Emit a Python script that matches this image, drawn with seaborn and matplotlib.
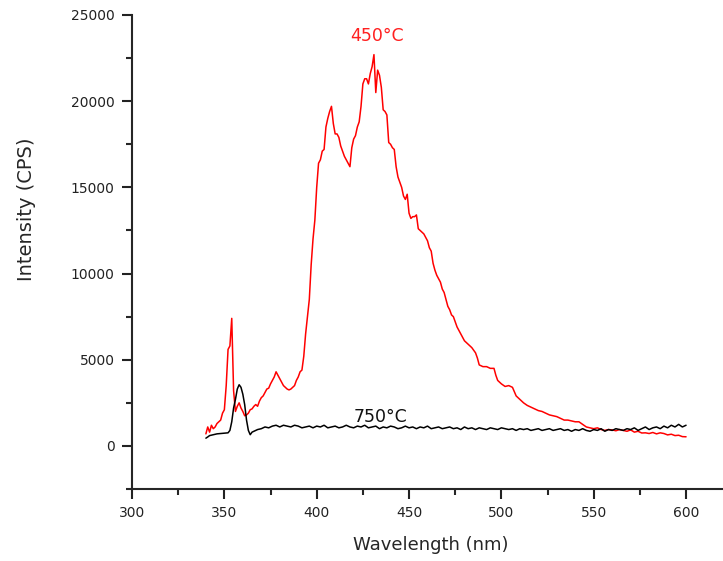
"""
Photoluminescence spectra, 450°C vs 750°C annealing
"""

import numpy as np
import pandas as pd
import matplotlib
matplotlib.use("Agg")
import matplotlib.pyplot as plt
import matplotlib.ticker as mticker
import seaborn as sns

# ── data
wl_450 = [340, 341, 342, 343, 344, 345, 346, 347, 348, 349, 350, 351, 352, 353, 354, 355, 356, 357, 358, 359,
          360, 361, 362, 363, 364, 365, 366, 367, 368, 369, 370, 371, 372, 373, 374, 375, 376, 377, 378, 379,
          380, 381, 382, 383, 384, 385, 386, 387, 388, 389, 390, 391, 392, 393, 394, 395, 396, 397, 398, 399,
          400, 401, 402, 403, 404, 405, 406, 407, 408, 409, 410, 411, 412, 413, 414, 415, 416, 417, 418, 419,
          420, 421, 422, 423, 424, 425, 426, 427, 428, 429, 430, 431, 432, 433, 434, 435, 436, 437, 438, 439,
          440, 441, 442, 443, 444, 445, 446, 447, 448, 449, 450, 451, 452, 453, 454, 455, 456, 457, 458, 459,
          460, 461, 462, 463, 464, 465, 466, 467, 468, 469, 470, 471, 472, 473, 474, 475, 476, 477, 478, 479,
          480, 482, 484, 486, 487, 488, 490, 492, 494, 496, 497, 498, 500, 502, 504, 506, 508, 510, 512, 514,
          516, 518, 520, 522, 524, 526, 528, 530, 532, 534, 536, 538, 540, 542, 544, 546, 548, 550, 552, 554,
          556, 558, 560, 562, 564, 566, 568, 570, 572, 574, 576, 578, 580, 582, 584, 586, 588, 590, 592, 594,
          596, 598, 600]
int_450 = [700, 1100, 800, 1200, 1000, 1100, 1300, 1400, 1500, 1900, 2100, 3500, 5600, 5800, 7400, 3200, 2000, 2300, 2500, 2200,
           2000, 1750, 1800, 1900, 2100, 2150, 2300, 2400, 2300, 2600, 2800, 2900, 3100, 3300, 3350, 3600, 3800, 4000, 4300, 4100,
           3900, 3700, 3500, 3400, 3300, 3250, 3300, 3400, 3500, 3800, 4000, 4300, 4400, 5200, 6500, 7500, 8500, 10500, 12000, 13100,
           15000, 16400, 16600, 17100, 17200, 18500, 19000, 19400, 19700, 18700, 18100, 18100, 17900, 17400, 17100, 16800, 16600, 16400, 16200, 17300,
           17800, 18000, 18500, 18800, 19700, 21000, 21300, 21300, 21000, 21600, 22000, 22700, 20500, 21800, 21500, 20800, 19500, 19400, 19200, 17600,
           17500, 17300, 17200, 16200, 15600, 15300, 15000, 14500, 14300, 14600, 13500, 13200, 13300, 13300, 13400, 12600, 12500, 12400, 12300, 12100,
           11900, 11500, 11300, 10600, 10200, 9900, 9700, 9500, 9100, 8900, 8500, 8100, 7900, 7600, 7500, 7200, 6900, 6700, 6500, 6300,
           6100, 5900, 5700, 5400, 5100, 4700, 4600, 4600, 4500, 4500, 4100, 3800, 3600, 3450, 3500, 3400, 2900, 2700, 2500, 2350,
           2250, 2150, 2050, 2000, 1900, 1800, 1750, 1700, 1600, 1500, 1500, 1450, 1400, 1400, 1250, 1100, 1050, 1000, 1050, 950,
           900, 950, 930, 880, 950, 900, 850, 930, 800, 850, 750, 760, 720, 780, 700, 760, 720, 640, 680, 600,
           620, 540, 530]

wl_750 = [340, 341, 342, 344, 346, 348, 350, 352, 353, 354, 355, 356, 357, 358, 359, 360, 361, 362, 363, 364,
          365, 366, 368, 370, 372, 374, 376, 378, 380, 382, 384, 386, 388, 390, 392, 394, 396, 398, 400, 402,
          404, 406, 408, 410, 412, 414, 416, 418, 420, 422, 424, 426, 428, 430, 432, 434, 436, 438, 440, 442,
          444, 446, 448, 450, 452, 454, 456, 458, 460, 462, 464, 466, 468, 470, 472, 474, 476, 478, 480, 482,
          484, 486, 488, 490, 492, 494, 496, 498, 500, 502, 504, 506, 508, 510, 512, 514, 516, 518, 520, 522,
          524, 526, 528, 530, 532, 534, 536, 538, 540, 542, 544, 546, 548, 550, 552, 554, 556, 558, 560, 562,
          564, 566, 568, 570, 572, 574, 576, 578, 580, 582, 584, 586, 588, 590, 592, 594, 596, 598, 600]
int_750 = [450, 520, 600, 650, 700, 720, 740, 760, 900, 1400, 2200, 2700, 3300, 3550, 3400, 3000, 2400, 1500, 900, 650,
           800, 850, 950, 1000, 1100, 1050, 1150, 1200, 1100, 1200, 1150, 1100, 1200, 1150, 1050, 1100, 1150, 1050, 1150, 1100,
           1200, 1050, 1100, 1150, 1050, 1100, 1200, 1100, 1050, 1150, 1100, 1200, 1050, 1100, 1150, 1000, 1100, 1050, 1150, 1100,
           1000, 1050, 1150, 1050, 1100, 1000, 1100, 1050, 1150, 1000, 1050, 1100, 1000, 1050, 1100, 1000, 1050, 950, 1100, 1000,
           1050, 950, 1050, 1000, 950, 1050, 1000, 950, 1050, 1000, 950, 1000, 900, 1000, 950, 1000, 900, 950, 1000, 900,
           950, 1000, 900, 950, 1000, 900, 950, 850, 950, 900, 1000, 900, 850, 950, 900, 1000, 850, 950, 900, 1000,
           950, 900, 1000, 950, 1050, 900, 1000, 1100, 950, 1050, 1100, 1000, 1150, 1050, 1200, 1100, 1250, 1100, 1200]

labels = ["450°C", "750°C"]
label_pos = [(432.5, 23800), (434.5, 1700)]

df = pd.concat([
    pd.DataFrame({"wl": wl_450, "cps": int_450, "sample": labels[0]}),
    pd.DataFrame({"wl": wl_750, "cps": int_750, "sample": labels[1]}),
])

sns.set_style("ticks")
plt.rcParams["font.family"] = ["DejaVu Sans"]

fig = plt.figure(figsize=(7.23, 5.61), dpi=100)
ax = fig.add_axes([0.1826, 0.1283, 0.8174, 0.845])

sns.lineplot(data=df, x="wl", y="cps", hue="sample", palette=["#FF0000", "#000000"],
             estimator=None, lw=1.1, legend=False, ax=ax)

for txt, (x, y), c in zip(labels, label_pos, ["#FF2020", "#111111"]):
    ax.text(x, y, txt, color=c, fontsize=12.5, ha="center", va="center")

ax.set_xlim(300, 620)
ax.set_ylim(-2500, 25000)
ax.xaxis.set_major_locator(mticker.MultipleLocator(50))
ax.xaxis.set_minor_locator(mticker.MultipleLocator(25))
ax.yaxis.set_major_locator(mticker.MultipleLocator(5000))
ax.yaxis.set_minor_locator(mticker.MultipleLocator(2500))
ax.tick_params(which="major", length=7, width=1.5, labelsize=10, pad=5.5, colors="#222222")
ax.tick_params(which="minor", length=4, width=1.5)
for s in ["left", "bottom"]:
    ax.spines[s].set_linewidth(1.5)
sns.despine(ax=ax)

ax.set_xlabel("Wavelength (nm)", fontsize=13)
ax.set_ylabel("Intensity (CPS)", fontsize=14)
ax.xaxis.set_label_coords(0.505, -0.100)
ax.yaxis.set_label_coords(-0.163, 0.59)

fig.savefig("out.png", dpi=100)
plt.close()
